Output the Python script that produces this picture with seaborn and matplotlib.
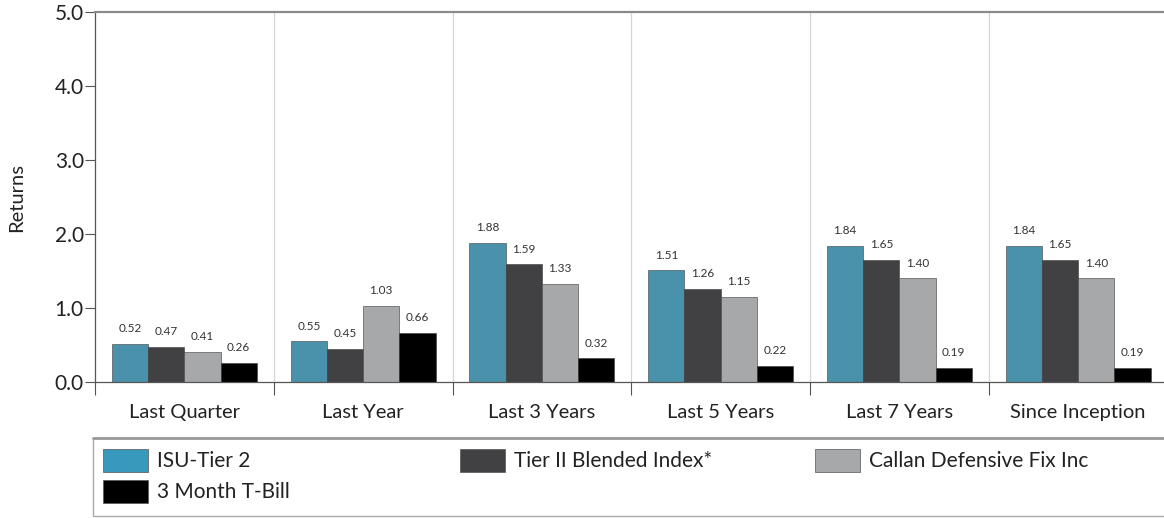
import matplotlib
matplotlib.use("Agg")
import matplotlib.pyplot as plt
import seaborn as sns
import pandas as pd
from matplotlib.ticker import FixedLocator, NullFormatter
from matplotlib.patches import Rectangle
from matplotlib.lines import Line2D

categories = ["Last Quarter", "Last Year", "Last 3 Years", "Last 5 Years", "Last 7 Years", "Since Inception"]
series_names = ["ISU-Tier 2", "Tier II Blended Index*", "Callan Defensive Fix Inc", "3 Month T-Bill"]
isu_tier2 = [0.52, 0.55, 1.88, 1.51, 1.84, 1.84]
tier2_blended = [0.47, 0.45, 1.59, 1.26, 1.65, 1.65]
callan_def = [0.41, 1.03, 1.33, 1.15, 1.40, 1.40]
tbill_3m = [0.26, 0.66, 0.32, 0.22, 0.19, 0.19]
y_ticks = [0.0, 1.0, 2.0, 3.0, 4.0, 5.0]
colors = ["#3999bd", "#414042", "#a6a8aa", "#000000"]

rows = []
for name, vals in zip(series_names, [isu_tier2, tier2_blended, callan_def, tbill_3m]):
    for c, v in zip(categories, vals):
        rows.append({"Period": c, "Series": name, "Returns": v})
df = pd.DataFrame(rows)

sns.set_style("white")
plt.rcParams["font.family"] = ["Lato", "DejaVu Sans"]

W, H = 1164, 518
fig = plt.figure(figsize=(W / 100, H / 100), dpi=100)
left, right, top, bottom = 95, 1167.5, 12, 382
ax = fig.add_axes([left / W, (H - bottom) / H, (right - left) / W, (bottom - top) / H])

sns.barplot(data=df, x="Period", y="Returns", hue="Series", order=categories,
            hue_order=series_names, palette=colors, width=0.81, gap=0,
            edgecolor="#3a3a3a", linewidth=0.4, ax=ax, legend=False)

for cont in ax.containers:
    ax.bar_label(cont, fmt="%.2f", padding=7, fontsize=8.5, color="#333333")

ax.set_xlim(-0.5, len(categories) - 0.5)
ax.set_ylim(0, 5.0)
ax.set_yticks(y_ticks)
ax.set_yticklabels([f"{t:.1f}" for t in y_ticks], fontsize=15, color="#222222")
ax.set_xticks(range(len(categories)))
ax.set_xticklabels(categories, fontsize=14.5, color="#222222")
ax.tick_params(axis="x", which="major", length=0, pad=16)
ax.xaxis.set_minor_locator(FixedLocator([i - 0.5 for i in range(len(categories))]))
ax.xaxis.set_minor_formatter(NullFormatter())
ax.tick_params(axis="x", which="minor", length=9, width=0.8, color="#555555", direction="out", bottom=True)
ax.tick_params(axis="y", length=7, width=0.8, color="#555555", direction="out", left=True, pad=1)
for i in range(len(categories) - 1):
    ax.axvline(i + 0.5, color="#d6d6d6", lw=0.9, zorder=0)

ax.set_xlabel("")
ax.set_ylabel("Returns", fontsize=14.5, color="#222222", labelpad=21)
for s in ["left", "bottom"]:
    ax.spines[s].set_color("#555555")
    ax.spines[s].set_linewidth(0.9)
ax.spines["top"].set_color("#8a8a8a")
ax.spines["top"].set_linewidth(1.6)
ax.spines["right"].set_visible(False)

# legend frame
fig.patches.append(Rectangle((93 / W, 2 / H), (W + 10 - 93) / W, (516 - 438) / H,
                             transform=fig.transFigure, facecolor="white", edgecolor="#aaaaaa",
                             lw=1.0, zorder=0))
fig.lines.append(Line2D([93 / W, 1.0], [(H - 438) / H] * 2, transform=fig.transFigure,
                        color="#999999", lw=2.0))

handles = [Rectangle((0, 0), 1, 1, facecolor=c, edgecolor="#555555", lw=0.5) for c in colors]
col_groups = [([0, 3], 103), ([1], 460), ([2], 815)]
for idxs, x0 in col_groups:
    lg = fig.legend([handles[i] for i in idxs], [series_names[i] for i in idxs],
                    loc="upper left", bbox_to_anchor=(x0 / W, (H - 449) / H),
                    borderaxespad=0, borderpad=0, frameon=False, fontsize=15,
                    handlelength=2.15, handleheight=1.3, labelspacing=0.4,
                    handletextpad=0.45)
    for t in lg.get_texts():
        t.set_color("#222222")

fig.savefig("out.png", dpi=100)
